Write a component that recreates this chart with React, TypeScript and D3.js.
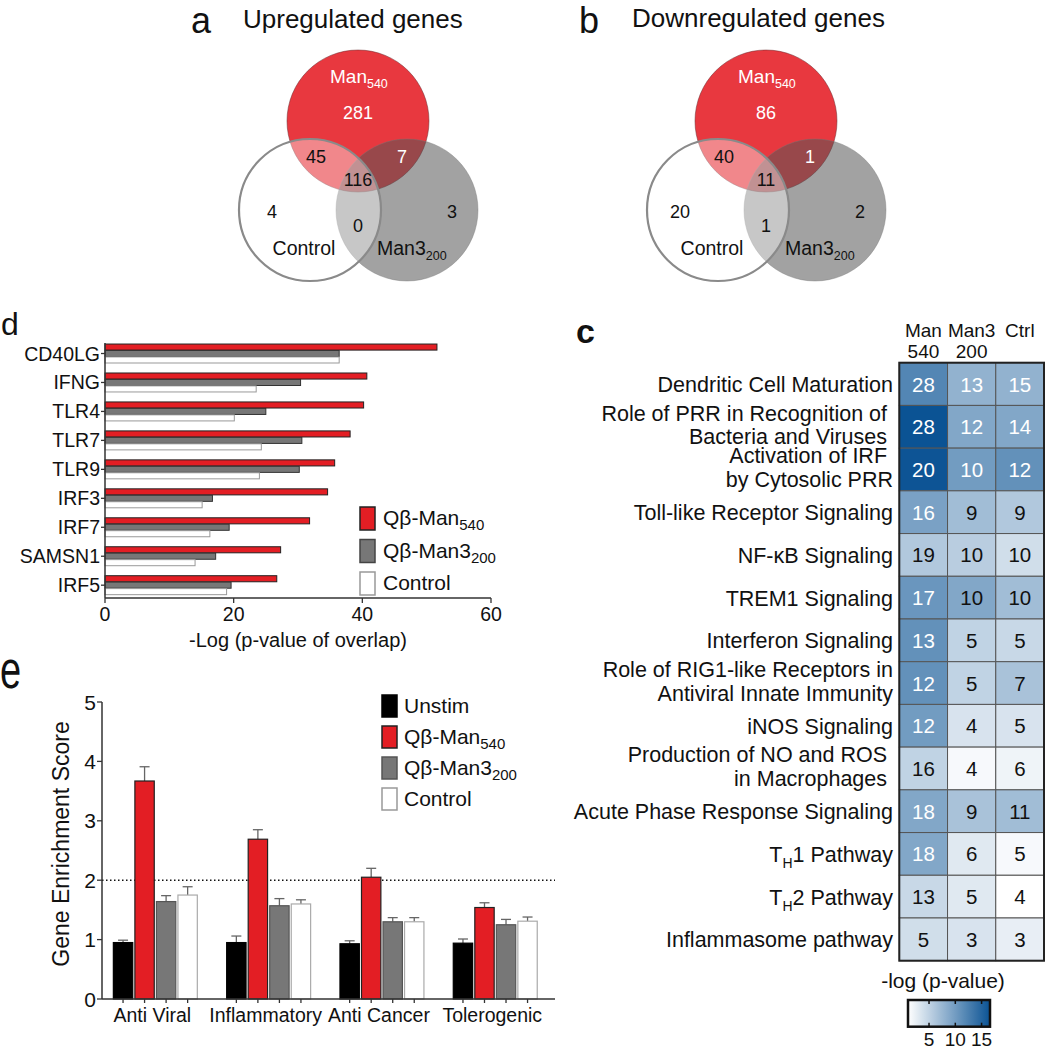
import React from "react";
import * as d3 from "d3";

const FONT = "'Liberation Sans', Arial, Helvetica, sans-serif";

// ---------- Panel a / b : Venn counts ----------
const vennRegions = ["Man540 only", "Man540∩Control", "Man540∩Man3", "All three", "Control only", "Control∩Man3", "Man3 only"];
const upCounts = [281, 45, 7, 116, 4, 0, 3];
const downCounts = [86, 40, 1, 11, 20, 1, 2];

// ---------- Panel d ----------
const genes = ["CD40LG", "IFNG", "TLR4", "TLR7", "TLR9", "IRF3", "IRF7", "SAMSN1", "IRF5"];
const dMan540 = [51.6, 40.7, 40.2, 38.1, 35.7, 34.6, 31.8, 27.3, 26.7];
const dMan3200 = [36.4, 30.4, 25.0, 30.6, 30.2, 16.7, 19.3, 17.2, 19.6];
const dControl = [36.4, 23.5, 20.1, 24.3, 24.0, 15.1, 16.3, 14.0, 18.9];
const dTicks = [0, 20, 40, 60];

// ---------- Panel e ----------
const eCategories = ["Anti Viral", "Inflammatory", "Anti Cancer", "Tolerogenic"];
const eUnstim = [0.95, 0.95, 0.93, 0.94];
const eUnstimErr = [0.04, 0.11, 0.05, 0.07];
const eMan540 = [3.67, 2.69, 2.05, 1.54];
const eMan540Err = [0.24, 0.16, 0.15, 0.08];
const eMan3200 = [1.64, 1.57, 1.3, 1.25];
const eMan3200Err = [0.1, 0.12, 0.07, 0.09];
const eControl = [1.75, 1.6, 1.3, 1.31];
const eControlErr = [0.14, 0.07, 0.07, 0.07];
const eTicks = [0, 1, 2, 3, 4, 5];
const eThreshold = 2;

// ---------- Panel c ----------
const pathways = [
  ["Dendritic Cell Maturation"],
  ["Role of PRR in Recognition of\u00A0", "Bacteria and Viruses\u00A0"],
  ["Activation of IRF\u00A0", "by Cytosolic PRR"],
  ["Toll-like Receptor Signaling"],
  ["NF-κB Signaling"],
  ["TREM1 Signaling"],
  ["Interferon Signaling"],
  ["Role of RIG1-like Receptors in", "Antiviral Innate Immunity"],
  ["iNOS Signaling"],
  ["Production of NO and ROS\u00A0", "in Macrophages\u00A0"],
  ["Acute Phase Response Signaling"],
  ["T_H1 Pathway"],
  ["T_H2 Pathway"],
  ["Inflammasome pathway"],
];
const cColumns = [["Man", "540"], ["Man3", "200"], ["Ctrl", ""]];
const cMan540 = [28, 28, 20, 16, 19, 17, 13, 12, 12, 16, 18, 18, 13, 5];
const cMan3200 = [13, 12, 10, 9, 10, 10, 5, 5, 4, 4, 9, 6, 5, 3];
const cCtrl = [15, 14, 12, 9, 10, 10, 5, 7, 5, 6, 11, 5, 4, 3];
const cLogP540 = [12, 17, 16.5, 9.5, 6, 10.5, 11, 11, 10, 5, 9, 9, 4.5, 4];
const cLogP3200 = [8, 9, 10, 7, 5.5, 9, 5, 5, 3.5, 1.5, 6.5, 3, 3, 3.5];
const cLogPCtrl = [8, 9, 11, 6, 4, 7, 4.5, 6.5, 3.5, 2, 7, 1.5, 1, 2.5];
const colorTicks = [5, 10, 15];
const whiteLabelCells = ["0-0", "0-1", "0-2", "1-0", "1-1", "1-2", "2-0", "2-1", "2-2", "3-0", "5-0", "6-0", "7-0", "8-0", "10-0", "11-0"];

const RED = "#e31e24";
const VRED = "#e8383f";

function Sub({ main, sub, subSize }: { main: string; sub: string; subSize: number }) {
  return (
    <>
      {main}
      <tspan fontSize={subSize} dy={5}>{sub}</tspan>
    </>
  );
}

function Venn({ cx, cy, counts, label, title, labelX, labelY, titleX, titleY }: any) {
  const r = 71;
  const offsets = [[0, -2], [-42, 42], [44, 42], [0, 65], [-86, 97], [0, 111], [94, 97]];
  const colors = ["#fff", "#111", "#fff", "#111", "#111", "#111", "#111"];
  return (
    <g>
      <text x={labelX} y={labelY} fontSize={36} fill="#111">{label}</text>
      <text x={titleX} y={titleY} fontSize={26} fill="#111">{title}</text>
      <circle cx={cx} cy={cy} r={r} fill={VRED} stroke="#6a2a2e" strokeOpacity={0.5} strokeWidth={1} />
      <circle cx={cx + 49} cy={cy + 89} r={r} fill="#555" fillOpacity={0.55} stroke="#777" strokeOpacity={0.4} strokeWidth={1} />
      <circle cx={cx - 48} cy={cy + 89} r={r} fill="#fff" fillOpacity={0.4} stroke="#8a8a8a" strokeWidth={2.2} />
      <text x={cx - 28} y={cy - 38} fontSize={19} fill="#fff">
        <Sub main="Man" sub="540" subSize={12.5} />
      </text>
      {counts.map((c: number, i: number) => (
        <text key={vennRegions[i]} x={cx + offsets[i][0]} y={cy + offsets[i][1]} fontSize={18} fill={colors[i]} textAnchor="middle">
          {c}
        </text>
      ))}
      <text x={cx - 54} y={cy + 134} fontSize={19.5} fill="#111" textAnchor="middle">Control</text>
      <text x={cx + 19} y={cy + 134} fontSize={19.5} fill="#111">
        <Sub main="Man3" sub="200" subSize={12.5} />
      </text>
    </g>
  );
}

function PanelD() {
  const x = d3.scaleLinear().domain([0, 60]).range([105, 491]);
  const y = d3.scaleBand<string>().domain(genes).range([340.7, 598]).paddingInner(0.345).paddingOuter(0.115);
  const series = [
    { key: "m540", values: dMan540, fill: RED, stroke: "#222" },
    { key: "m3200", values: dMan3200, fill: "#777", stroke: "#333" },
    { key: "ctrl", values: dControl, fill: "#fff", stroke: "#999" },
  ];
  const s = d3.scaleBand<string>().domain(series.map((d) => d.key)).range([0, y.bandwidth()]).paddingInner(0.06);
  const legend = [
    { fill: RED, stroke: "#222", main: "Qβ-Man", sub: "540" },
    { fill: "#777", stroke: "#444", main: "Qβ-Man3", sub: "200" },
    { fill: "#fff", stroke: "#999", main: "Control", sub: "" },
  ];
  return (
    <g>
      <text x={1} y={335} fontSize={32} fill="#111">d</text>
      {series.map((se) =>
        genes.map((g, i) => (
          <rect key={se.key + g} x={x(0)} y={(y(g) as number) + (s(se.key) as number)} width={x(se.values[i]) - x(0)} height={s.bandwidth()} fill={se.fill} stroke={se.stroke} strokeWidth={1} />
        ))
      )}
      <line x1={x(0)} x2={x(0)} y1={343} y2={598} stroke="#333" strokeWidth={1.5} />
      <line x1={x(0)} x2={x(60)} y1={598} y2={598} stroke="#333" strokeWidth={1.5} />
      {genes.map((g) => {
        const cy = (y(g) as number) + y.bandwidth() / 2;
        return (
          <g key={g}>
            <line x1={x(0) - 4} x2={x(0)} y1={cy} y2={cy} stroke="#333" strokeWidth={1.3} />
            <text x={x(0) - 5} y={cy + 7} fontSize={19.5} textAnchor="end" fill="#111">{g}</text>
          </g>
        );
      })}
      {dTicks.map((t) => (
        <g key={t}>
          <line x1={x(t)} x2={x(t)} y1={598} y2={603} stroke="#333" strokeWidth={1.3} />
          <text x={x(t)} y={621} fontSize={19.5} textAnchor="middle" fill="#111">{t}</text>
        </g>
      ))}
      <text x={298} y={647} fontSize={20} textAnchor="middle" fill="#111">-Log (p-value of overlap)</text>
      {legend.map((l, i) => (
        <g key={i}>
          <rect x={360} y={507 + i * 32.5} width={15} height={23} fill={l.fill} stroke={l.stroke} strokeWidth={1.5} />
          <text x={383} y={525 + i * 32.5} fontSize={21} fill="#111">
            {l.sub ? <Sub main={l.main} sub={l.sub} subSize={15} /> : l.main}
          </text>
        </g>
      ))}
    </g>
  );
}

function PanelE() {
  const y = d3.scaleLinear().domain([0, 5]).range([999, 702]);
  const x = d3.scaleBand<string>().domain(eCategories).range([102, 555]).paddingInner(0.259).paddingOuter(0.1285).align(0.39);
  const series = [
    { key: "unstim", values: eUnstim, err: eUnstimErr, fill: "#000", stroke: "#000", name: "Unstim", sub: "" },
    { key: "m540", values: eMan540, err: eMan540Err, fill: RED, stroke: "#222", name: "Qβ-Man", sub: "540" },
    { key: "m3200", values: eMan3200, err: eMan3200Err, fill: "#777", stroke: "#555", name: "Qβ-Man3", sub: "200" },
    { key: "ctrl", values: eControl, err: eControlErr, fill: "#fff", stroke: "#aaa", name: "Control", sub: "" },
  ];
  const s = d3.scaleBand<string>().domain(series.map((d) => d.key)).range([0, x.bandwidth()]).paddingInner(0.1);
  const legendTop = [695, 726, 757, 788];
  return (
    <g>
      <text x={0} y={688} fontSize={38} fill="#111" transform="translate(0,688) scale(1,1.4) translate(0,-688)">e</text>
      <line x1={102} x2={555} y1={y(eThreshold)} y2={y(eThreshold)} stroke="#111" strokeWidth={1.5} strokeDasharray="1.5,2.5" />
      {series.map((se) =>
        eCategories.map((c, i) => {
          const bx = (x(c) as number) + (s(se.key) as number);
          const bw = s.bandwidth();
          const top = y(se.values[i]);
          const et = y(se.values[i] + se.err[i]);
          return (
            <g key={se.key + c}>
              <line x1={bx + bw / 2} x2={bx + bw / 2} y1={top} y2={et} stroke="#666" strokeWidth={1.3} />
              <line x1={bx + bw / 2 - 5} x2={bx + bw / 2 + 5} y1={et} y2={et} stroke="#666" strokeWidth={1.3} />
              <rect x={bx} y={top} width={bw} height={y(0) - top} fill={se.fill} stroke={se.stroke} strokeWidth={1.2} />
              <line x1={bx + bw / 2} x2={bx + bw / 2} y1={y(0)} y2={y(0) + 4} stroke="#333" strokeWidth={1.3} />
            </g>
          );
        })
      )}
      <line x1={102} x2={102} y1={702} y2={999} stroke="#333" strokeWidth={1.5} />
      <line x1={102} x2={555} y1={999} y2={999} stroke="#333" strokeWidth={1.5} />
      {eTicks.map((t) => (
        <g key={t}>
          <line x1={97} x2={102} y1={y(t)} y2={y(t)} stroke="#333" strokeWidth={1.3} />
          <text x={96} y={y(t) + 7.5} fontSize={21} textAnchor="end" fill="#111">{t}</text>
        </g>
      ))}
      {eCategories.map((c) => (
        <text key={c} x={(x(c) as number) + x.bandwidth() / 2 - 3} y={1022} fontSize={19.5} textAnchor="middle" fill="#111">{c}</text>
      ))}
      <text transform="translate(69,844) rotate(-90)" fontSize={23} textAnchor="middle" fill="#111">Gene Enrichment Score</text>
      {series.map((se, i) => (
        <g key={se.key}>
          <rect x={382} y={legendTop[i]} width={15} height={22} fill={se.fill} stroke={se.stroke === "#aaa" ? "#999" : se.stroke} strokeWidth={1.5} />
          <text x={404} y={legendTop[i] + 18} fontSize={21} fill="#111">
            {se.sub ? <Sub main={se.name} sub={se.sub} subSize={15} /> : se.name}
          </text>
        </g>
      ))}
    </g>
  );
}

function PanelC() {
  const rows = d3.range(pathways.length);
  const y = d3.scaleBand<number>().domain(rows).range([362.7, 960.7]);
  const x = d3.scaleBand<number>().domain([0, 1, 2]).range([899.3, 1044]);
  const color = d3.scaleLinear<string>().domain([1, 16.6]).range(["#ffffff", "#0b5394"]).clamp(true);
  const counts = [cMan540, cMan3200, cCtrl];
  const logp = [cLogP540, cLogP3200, cLogPCtrl];
  const cb = d3.scaleLinear().domain([1, 16.6]).range([908, 990]);
  const gradStops = d3.range(0, 1.0001, 0.1);
  const renderLine = (line: string) => {
    if (line.startsWith("T_H")) {
      return (
        <>
          T<tspan fontSize={14} dy={6}>H</tspan>
          <tspan dy={-6}>{line.slice(3)}</tspan>
        </>
      );
    }
    return line;
  };
  return (
    <g>
      <defs>
        <linearGradient id="cbgrad" x1="0" x2="1" y1="0" y2="0">
          {gradStops.map((t) => (
            <stop key={t} offset={t} stopColor={color(1 + t * 15.6)} />
          ))}
        </linearGradient>
      </defs>
      <text x={576} y={343} fontSize={34} fontWeight="bold" fill="#111">c</text>
      {cColumns.map((c, j) => (
        <g key={j}>
          <text x={(x(j) as number) + x.bandwidth() / 2} y={337} fontSize={19} textAnchor="middle" fill="#111">{c[0]}</text>
          {c[1] && <text x={(x(j) as number) + x.bandwidth() / 2} y={358} fontSize={19} textAnchor="middle" fill="#111">{c[1]}</text>}
        </g>
      ))}
      {rows.map((r) =>
        [0, 1, 2].map((j) => (
          <rect key={r + "-" + j} x={x(j)} y={y(r)} width={x.bandwidth()} height={y.bandwidth()} fill={color(logp[j][r])} stroke="#555" strokeWidth={1} />
        ))
      )}
      {rows.map((r) =>
        [0, 1, 2].map((j) => (
          <text key={"t" + r + "-" + j} x={(x(j) as number) + x.bandwidth() / 2} y={(y(r) as number) + y.bandwidth() / 2 + 7.5} fontSize={20.5} textAnchor="middle" fill={whiteLabelCells.includes(r + "-" + j) ? "#fff" : "#111"}>
            {counts[j][r]}
          </text>
        ))
      )}
      <rect x={899.3} y={362.7} width={1044 - 899.3} height={960.7 - 362.7} fill="none" stroke="#222" strokeWidth={2} />
      {pathways.map((lines, r) => {
        const cy = (y(r) as number) + y.bandwidth() / 2;
        if (lines.length === 1) {
          return (
            <text key={r} x={893} y={cy + 8} fontSize={21.5} textAnchor="end" fill="#111" style={{ whiteSpace: "pre" }}>
              {renderLine(lines[0])}
            </text>
          );
        }
        return (
          <g key={r}>
            <text x={893} y={cy - 6} fontSize={21.5} textAnchor="end" fill="#111" style={{ whiteSpace: "pre" }}>{lines[0]}</text>
            <text x={893} y={cy + 17.5} fontSize={21.5} textAnchor="end" fill="#111" style={{ whiteSpace: "pre" }}>{lines[1]}</text>
          </g>
        );
      })}
      <text x={943} y={988} fontSize={21} textAnchor="middle" fill="#111">-log (p-value)</text>
      <rect x={908} y={1000} width={82} height={26.7} fill="url(#cbgrad)" stroke="#111" strokeWidth={2.5} />
      {colorTicks.map((t) => (
        <g key={t}>
          <line x1={cb(t)} x2={cb(t)} y1={1000} y2={1004} stroke="#111" strokeWidth={1.5} />
          <line x1={cb(t)} x2={cb(t)} y1={1026.7} y2={1022.7} stroke="#111" strokeWidth={1.5} />
          <text x={cb(t)} y={1046} fontSize={19} textAnchor="middle" fill="#111">{t}</text>
        </g>
      ))}
    </g>
  );
}

export default function App() {
  return (
    <svg width={1045} height={1050} style={{ position: "absolute", left: 0, top: 0, background: "#fff" }} fontFamily={FONT}>
      <rect x={0} y={0} width={1045} height={1050} fill="#fff" />
      <Venn cx={358} cy={121} counts={upCounts} label="a" title="Upregulated genes" labelX={191} labelY={33} titleX={243} titleY={28} />
      <Venn cx={766} cy={121} counts={downCounts} label="b" title="Downregulated genes" labelX={579} labelY={33} titleX={632} titleY={27} />
      <PanelD />
      <PanelE />
      <PanelC />
    </svg>
  );
}
